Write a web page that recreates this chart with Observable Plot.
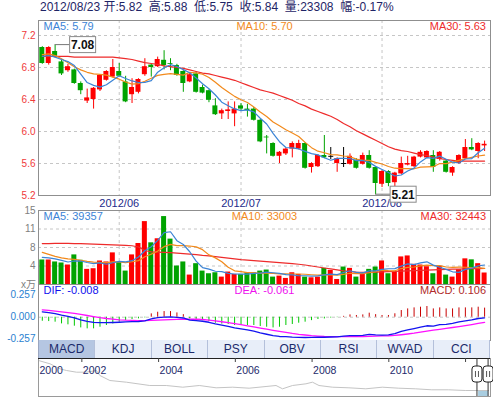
<!DOCTYPE html>
<html><head><meta charset="utf-8">
<script src="https://cdn.jsdelivr.net/npm/d3@7"></script>
<script src="https://cdn.jsdelivr.net/npm/@observablehq/plot@0.6"></script>
<style>
body{margin:0;background:#fff;}
#root{position:relative;width:493px;height:398px;overflow:hidden;background:#fff;font-family:"Liberation Sans",Arial,sans-serif;}
.panel{position:absolute;left:0;}
.panel svg{overflow:visible;}
#title{position:absolute;left:40px;top:0;font-size:12px;line-height:14px;color:#1e2466;white-space:pre;font-family:"Liberation Sans",Arial,"Noto Sans CJK SC",sans-serif;}
#unit{position:absolute;left:21px;top:279px;font-size:10px;line-height:12px;color:#808080;font-family:"Liberation Sans","Noto Sans CJK SC",sans-serif;}
#tabs{position:absolute;left:38px;top:340px;width:452px;height:18px;display:flex;background:#e8eef9;border-left:1px solid #9aa6c0;box-sizing:border-box;}
.tab{flex:1;text-align:center;font-size:12px;line-height:18px;color:#1b2a6b;border-right:1px solid #b4c0da;box-sizing:border-box;}
.tab.sel{background:#b5c6e2;}
</style></head>
<body>
<div id="root">
  <div id="title"></div>
  <div class="panel" id="pPrice" style="top:20px"></div>
  <div class="panel" id="pVol" style="top:210px"></div>
  <div id="unit">x万</div>
  <div class="panel" id="pMacd" style="top:284px"></div>
  <div id="tabs"></div>
  <div class="panel" id="pOv" style="top:358px"></div>
</div>
<script>
// ---------- data ----------
const titleText = "2012/08/23 开:5.82  高:5.88  低:5.75  收:5.84  量:23308  幅:-0.17%";

const open  = [7.05,6.85,7.00,6.87,6.76,6.77,6.60,6.38,6.40,6.52, 6.64,6.68,6.75,6.62,6.46,6.49,6.71,6.83,6.81,6.89, 6.85,6.825,6.75,6.62,6.72,6.55,6.51,6.32,6.22,6.25, 6.22,6.32,6.28,6.28,6.14,5.93,5.85,5.69,5.72,5.78, 5.78,5.85,5.55,5.56,5.70,5.69,5.60,5.60,5.59,5.64, 5.59,5.70,5.55,5.34,5.50,5.36,5.47,5.58,5.56,5.68, 5.67,5.70,5.65,5.63,5.48,5.60,5.66,5.80,5.75,5.82];
const high  = [7.06,7.06,7.08,6.89,6.84,6.78,6.62,6.53,6.55,6.70, 6.76,6.90,6.85,6.69,6.66,6.66,6.91,6.84,6.93,7.01, 6.91,6.84,6.76,6.73,6.75,6.58,6.52,6.41,6.28,6.37, 6.37,6.35,6.34,6.30,6.15,5.95,5.86,5.75,5.79,5.87, 5.89,5.86,5.61,5.71,5.95,5.80,5.67,5.80,5.72,5.66, 5.73,5.76,5.56,5.51,5.51,5.49,5.68,5.69,5.69,5.76, 5.76,5.76,5.75,5.64,5.56,5.71,5.90,5.91,5.86,5.88];
const low   = [6.84,6.83,6.92,6.70,6.74,6.59,6.46,6.35,6.28,6.50, 6.63,6.67,6.68,6.36,6.35,6.47,6.69,6.68,6.80,6.77, 6.76,6.69,6.49,6.61,6.48,6.47,6.36,6.20,6.15,6.15, 6.06,6.26,6.18,6.13,5.86,5.72,5.68,5.60,5.70,5.67, 5.77,5.53,5.48,5.55,5.66,5.65,5.49,5.55,5.58,5.53, 5.58,5.53,5.21,5.30,5.31,5.31,5.46,5.57,5.55,5.67, 5.66,5.49,5.63,5.48,5.44,5.59,5.65,5.76,5.66,5.75];
const close = [6.85,7.05,6.94,6.72,6.81,6.60,6.51,6.42,6.54,6.70, 6.75,6.80,6.69,6.37,6.55,6.65,6.81,6.80,6.90,6.825, 6.84,6.70,6.60,6.71,6.49,6.48,6.39,6.21,6.26,6.27, 6.28,6.28,6.26,6.14,5.87,5.92,5.69,5.74,5.78,5.85, 5.85,5.54,5.60,5.70,5.67,5.69,5.66,5.60,5.69,5.54, 5.70,5.54,5.35,5.50,5.35,5.48,5.60,5.60,5.68,5.74, 5.75,5.55,5.74,5.49,5.55,5.70,5.80,5.77,5.85,5.84];
const ma5   = [6.94,6.95,6.93,6.90,6.874,6.824,6.716,6.612,6.576,6.554, 6.584,6.642,6.696,6.662,6.632,6.612,6.614,6.636,6.742,6.797, 6.835,6.813,6.773,6.735,6.668,6.596,6.534,6.456,6.366,6.322, 6.282,6.26,6.27,6.246,6.166,6.094,5.976,5.872,5.80,5.796, 5.782,5.752,5.724,5.708,5.672,5.64,5.664,5.664,5.662,5.636, 5.638,5.614,5.564,5.526,5.488,5.444,5.456,5.506,5.542,5.62, 5.674,5.664,5.692,5.654,5.616,5.606,5.656,5.662,5.734,5.792];
const ma10  = [6.96,6.97,6.95,6.91,6.86,6.81,6.77,6.74,6.72,6.714, 6.704,6.679,6.654,6.619,6.593,6.598,6.628,6.666,6.702,6.715, 6.724,6.714,6.705,6.739,6.733,6.716,6.674,6.615,6.551,6.495, 6.439,6.397,6.363,6.306,6.244,6.188,6.118,6.071,6.023,5.981, 5.938,5.864,5.798,5.754,5.734,5.711,5.708,5.694,5.685,5.654, 5.639,5.639,5.614,5.594,5.562,5.541,5.535,5.535,5.534,5.554, 5.559,5.56,5.599,5.598,5.618,5.64,5.66,5.677,5.694,5.704];
const ma30  = [6.94,6.94,6.94,6.94,6.94,6.93,6.93,6.93,6.93,6.93, 6.93,6.93,6.92,6.91,6.90,6.88,6.86,6.85,6.84,6.82, 6.81,6.80,6.79,6.77,6.75,6.73,6.72,6.70,6.68,6.66, 6.64,6.61,6.58,6.55,6.52,6.50,6.48,6.45,6.42,6.39, 6.35,6.32,6.28,6.25,6.22,6.19,6.15,6.10,6.06,6.01, 5.97,5.93,5.89,5.85,5.81,5.78,5.76,5.75,5.73,5.71, 5.70,5.68,5.66,5.65,5.64,5.63,5.63,5.63,5.63,5.63];

const volume = [4.97,4.97,4.57,4.36,3.95,6.00,4.91,3.07,3.20,4.77, 4.57,6.41,4.43,2.72,6.00,8.31,12.75,8.45,9.27,13.77, 9.20,3.75,4.57,1.91,4.22,2.72,2.18,2.38,1.50,2.52, 2.04,2.04,2.38,2.38,2.72,2.93,1.50,1.70,1.23,2.38, 2.04,1.50,1.36,1.50,3.27,2.86,1.02,3.54,3.27,1.50, 2.38,3.07,3.54,4.77,2.18,2.52,5.59,5.79,4.09,3.95, 3.60,2.18,3.70,1.91,1.50,3.00,5.20,5.00,4.22,2.33];
const vma5  = [5.5,5.4,5.2,4.9,4.564,4.77,4.758,4.458,4.226,4.39, 4.104,4.404,4.676,4.58,4.826,5.574,6.842,7.646,8.956,10.51, 10.688,8.888,8.112,6.64,4.73,3.434,3.12,2.682,2.60,2.26, 2.124,2.096,2.096,2.272,2.312,2.49,2.382,2.246,2.016,1.948, 1.77,1.77,1.702,1.756,1.934,2.098,2.002,2.438,2.792,2.438, 2.342,2.752,2.752,3.052,3.188,3.216,3.72,4.17,4.034,4.388, 4.604,3.922,3.504,3.068,2.578,2.458,3.062,3.322,3.784,3.95];
const vma10 = [6.5,6.1,5.7,5.4,5.2,5.1,4.9,4.7,4.55,4.477, 4.437,4.581,4.567,4.403,4.608,4.839,5.623,6.161,6.768,7.668, 8.131,7.865,7.879,7.798,7.62,7.061,6.004,5.397,4.62,3.495, 2.779,2.608,2.389,2.436,2.286,2.307,2.239,2.171,2.144,2.13, 2.13,2.076,1.974,1.886,1.941,1.934,1.886,2.07,2.274,2.186, 2.22,2.377,2.595,2.922,2.813,2.779,3.236,3.461,3.543,3.788, 3.91,3.821,3.837,3.551,3.483,3.531,3.492,3.413,3.426,3.264];
const vma30 = [8.3,8.3,8.35,8.35,8.35,8.3,8.3,8.25,8.2,8.15, 8.1,8.05,8.0,7.95,7.85,7.6,6.9,6.6,6.55,6.5, 6.45,6.35,6.25,6.15,6.05,5.9,5.8,5.65,5.5,5.35, 5.2,5.05,4.95,4.85,4.75,4.65,4.55,4.45,4.35,4.25, 4.1,3.95,3.75,3.55,3.35,3.15,2.95,2.75,2.6,2.5, 2.45,2.45,2.5,2.55,2.6,2.65,2.7,2.75,2.8,2.85, 2.9,2.95,3.0,3.05,3.1,3.12,3.16,3.2,3.22,3.24];

const macd = [-0.047,-0.051,-0.058,-0.078,-0.089,-0.105,-0.125,-0.136,-0.136,-0.117, -0.097,-0.078,-0.058,-0.039,-0.027,-0.019,-0.008,0.039,0.058,0.066, 0.066,0.05,0.03,-0.02,-0.03,-0.04,-0.05,-0.07,-0.08,-0.085, -0.097,-0.097,-0.097,-0.097,-0.109,-0.117,-0.125,-0.117,-0.097,-0.085, -0.07,-0.058,-0.04,-0.027,-0.02,-0.01,-0.005,0.01,0.027,0.02, 0.027,0.047,0.03,0.02,0.02,0.04,0.078,0.097,0.109,0.117, 0.125,0.097,0.109,0.097,0.097,0.109,0.109,0.109,0.117,0.106];
const dif  = [0.063,0.054,0.042,0.024,0.010,-0.008,-0.030,-0.048,-0.061,-0.064, -0.064,-0.062,-0.059,-0.055,-0.052,-0.050,-0.044,-0.019,-0.006,0.001, 0.004,-0.001,-0.009,-0.033,-0.039,-0.047,-0.059,-0.078,-0.093,-0.107, -0.124,-0.136,-0.149,-0.162,-0.182,-0.199,-0.216,-0.225,-0.227,-0.233, -0.235,-0.237,-0.235,-0.234,-0.234,-0.231,-0.230,-0.222,-0.214,-0.216, -0.212,-0.200,-0.206,-0.209,-0.207,-0.193,-0.166,-0.148,-0.132,-0.116, -0.100,-0.104,-0.087,-0.083,-0.072,-0.055,-0.044,-0.032,-0.015,-0.008];
const dea  = [0.086,0.079,0.071,0.063,0.054,0.045,0.033,0.020,0.007,-0.005, -0.015,-0.023,-0.030,-0.035,-0.038,-0.040,-0.040,-0.038,-0.035,-0.032, -0.029,-0.026,-0.024,-0.023,-0.024,-0.027,-0.034,-0.043,-0.053,-0.064, -0.075,-0.087,-0.100,-0.113,-0.127,-0.140,-0.153,-0.166,-0.178,-0.190, -0.200,-0.208,-0.215,-0.220,-0.224,-0.226,-0.227,-0.227,-0.227,-0.226, -0.225,-0.223,-0.221,-0.219,-0.217,-0.213,-0.205,-0.196,-0.186,-0.174, -0.162,-0.152,-0.141,-0.131,-0.120,-0.109,-0.098,-0.086,-0.073,-0.061];

const monthLabels = ["2012/06","2012/07","2012/08"];
const monthIndex  = [12, 31, 53];
const priceTicks  = [5.2, 5.6, 6.0, 6.4, 6.8, 7.2];
const volTicks    = [3.75, 7.5, 11.25, 15];
const volTickLabels = ["4","8","11","15"];
const macdTicks   = [-0.257, 0, 0.257];
const macdTickLabels = ["-0.257","0.000","0.257"];
const priceLabels = ["MA5: 5.79","MA10: 5.70","MA30: 5.63"];
const volLabels   = ["MA5: 39357","MA10: 33003","MA30: 32443"];
const macdLabels  = ["DIF: -0.008","DEA: -0.061","MACD: 0.106"];
const extremes    = [{i:2, v:7.08, label:"7.08"}, {i:52, v:5.21, label:"5.21"}];
const tabs = ["MACD","KDJ","BOLL","PSY","OBV","RSI","WVAD","CCI"];

const ovYear  = [2000.87,2001.17,2001.43,2001.6,2001.86,2002.12,2002.38,2002.47,2002.73,2003.16,2003.77,2004.2,2004.63,2005.06,2005.5,2005.93,2006.36,2006.8,2007.06,2007.23,2007.49,2007.84,2008.01,2008.18,2008.53,2008.96,2009.4,2009.83,2010.26,2010.69,2011.12,2011.56,2011.99,2012.34,2012.6];
const ovValue = [36,32.7,27.7,26,24.3,24.3,26,21,16,14.3,11,11,9.3,11,8.7,9.3,8.3,10,11,7.7,11,12.7,14.3,11,9.3,8.7,7.7,9.3,8.3,7.7,6.7,6.7,6,6,6];
const yearTicks = [2002,2004,2006,2008,2010,2012];
const yearLabelPos = [2000.87,2002,2004,2006,2008,2010];
const yearLabels = ["2000","2002","2004","2006","2008","2010"];
const selRange = [2012.31, 2012.6];

// ---------- build ----------
const UP="#ff0000", DOWN="#00a300", FLAT="#000000";
const C5="#3b84d6", C10="#f28a1c", C30="#ee2b2b";
const GRID="#c6c6c6", FRAME="#8f8f8f";
const xDomain=[-0.593, 69.92];
const FONT="'Liberation Sans', Arial, sans-serif";

document.getElementById("title").textContent = titleText;

const days = close.map((c,i)=>({i, o:open[i], h:high[i], l:low[i], c, v:volume[i],
  ma5:ma5[i], ma10:ma10[i], ma30:ma30[i], vma5:vma5[i], vma10:vma10[i], vma30:vma30[i],
  dif:dif[i], dea:dea[i], m:macd[i], prev: i>0 ? close[i-1] : open[i]}));
const candleColor = d => d.c > d.o ? UP : d.c < d.o ? DOWN : FLAT;
const volColor = d => d.c > d.o ? UP : d.c < d.o ? DOWN : (d.c >= d.prev ? UP : DOWN);
const months = monthIndex.map((i,k)=>({i, label:monthLabels[k]}));
const half = 0.39;

function headerLabels(labels){
  return [
    Plot.text([labels[0]],{text:d=>d, frameAnchor:"top-left", dx:5, dy:6, lineAnchor:"middle", textAnchor:"start", fill:labels===macdLabels? "#1010ee" : C5, fontSize:11}),
    Plot.text([labels[1]],{text:d=>d, frameAnchor:"top", dx:0, dy:6, lineAnchor:"middle", textAnchor:"middle", fill:labels===macdLabels? "#ee10ee" : C10, fontSize:11}),
    Plot.text([labels[2]],{text:d=>d, frameAnchor:"top-right", dx:-4.5, dy:6, lineAnchor:"middle", textAnchor:"end", fill:labels===macdLabels? "#b02a2a" : C30, fontSize:11})
  ];
}

function extremeMark(e){
  return (index, scales) => {
    const x = scales.x(e.i), y = scales.y(e.v);
    const g = d3.create("svg:g");
    const bx = x + 15;
    g.append("line").attr("x1",x).attr("x2",bx).attr("y1",y).attr("y2",y).attr("stroke","#777");
    g.append("rect").attr("x",bx).attr("y",y-8).attr("width",26).attr("height",16).attr("fill","#fff").attr("stroke","#8a8a8a");
    g.append("text").attr("x",bx+13).attr("y",y).attr("dy","0.36em").attr("text-anchor","middle")
      .attr("font-weight","bold").attr("font-size",12).attr("font-family",FONT).attr("fill","#111").text(e.label);
    return g.node();
  };
}

const common = {width:493, marginLeft:38, marginRight:3, style:{background:"transparent", overflow:"visible", fontFamily:FONT}};

const price = Plot.plot({
  ...common, height:189, marginTop:0, marginBottom:14,
  x:{domain:xDomain, axis:null}, y:{domain:[5.2,7.3875], axis:null},
  marks:[
    Plot.ruleY(priceTicks,{stroke:GRID, strokeDasharray:"3,3"}),
    Plot.ruleX(months,{x:"i", stroke:GRID, strokeDasharray:"3,3"}),
    Plot.text(priceTicks,{y:d=>d, text:d=>d.toFixed(1), frameAnchor:"left", textAnchor:"end", dx:-3, fill:"#f03a3a", fontSize:10}),
    Plot.text(months,{x:"i", text:"label", frameAnchor:"bottom", dy:8, lineAnchor:"middle", fill:"#1d2a8a", fontSize:11}),
    Plot.ruleX(days,{x:"i", y1:"l", y2:"h", stroke:candleColor}),
    Plot.rect(days.filter(d=>d.o!==d.c),{x1:d=>d.i-half, x2:d=>d.i+half, y1:"o", y2:"c", fill:candleColor}),
    Plot.link(days.filter(d=>d.o===d.c),{x1:d=>d.i-half, x2:d=>d.i+half, y1:"o", y2:"c", stroke:FLAT}),
    Plot.line(days,{x:"i", y:"ma30", stroke:C30, strokeWidth:1.2}),
    Plot.line(days,{x:"i", y:"ma10", stroke:C10, strokeWidth:1.2}),
    Plot.line(days,{x:"i", y:"ma5", stroke:C5, strokeWidth:1.2}),
    ...headerLabels(priceLabels),
    Plot.frame({stroke:FRAME}),
    ...extremes.map(extremeMark)
  ]
});
document.getElementById("pPrice").append(price);

const volTickObjs = volTicks.map((v,k)=>({v, label:volTickLabels[k]}));
const vol = Plot.plot({
  ...common, height:74, marginTop:0, marginBottom:0,
  x:{domain:xDomain, axis:null}, y:{domain:[0,15], axis:null},
  marks:[
    Plot.ruleY(volTicks.slice(0,3),{stroke:GRID, strokeDasharray:"3,3"}),
    Plot.ruleX(months,{x:"i", stroke:GRID, strokeDasharray:"3,3"}),
    Plot.text(volTickObjs,{y:"v", text:"label", frameAnchor:"left", textAnchor:"end", dx:-3, fill:"#808080", fontSize:10}),
    Plot.rect(days,{x1:d=>d.i-half, x2:d=>d.i+half, y1:()=>0, y2:"v", fill:volColor}),
    Plot.line(days,{x:"i", y:"vma30", stroke:C30, strokeWidth:1.2}),
    Plot.line(days,{x:"i", y:"vma10", stroke:C10, strokeWidth:1.2}),
    Plot.line(days,{x:"i", y:"vma5", stroke:C5, strokeWidth:1.2}),
    ...headerLabels(volLabels),
    Plot.frame({stroke:FRAME})
  ]
});
document.getElementById("pVol").append(vol);

const macdTickObjs = macdTicks.map((v,k)=>({v, label:macdTickLabels[k]}));
const mac = Plot.plot({
  ...common, height:56, marginTop:0, marginBottom:0,
  x:{domain:xDomain, axis:null}, y:{domain:[-0.272,0.382], axis:null},
  marks:[
    Plot.ruleY([0],{stroke:GRID, strokeDasharray:"3,3"}),
    Plot.text(macdTickObjs,{y:"v", text:"label", frameAnchor:"left", textAnchor:"end", dx:-3, fill:"#2a7fd0", fontSize:10}),
    Plot.ruleX(days,{x:"i", y1:()=>0, y2:"m", stroke:d=>d.m>=0?"#c80000":"#00c800"}),
    Plot.line(days,{x:"i", y:"dea", stroke:"#ff10ff", strokeWidth:1.3}),
    Plot.line(days,{x:"i", y:"dif", stroke:"#1414f0", strokeWidth:1.3}),
    ...headerLabels(macdLabels),
    Plot.frame({stroke:FRAME})
  ]
});
document.getElementById("pMacd").append(mac);

const tabsEl = document.getElementById("tabs");
tabs.forEach((t,k)=>{ const d=document.createElement("div"); d.className="tab"+(k===0?" sel":""); d.textContent=t; tabsEl.append(d); });

const ov = ovYear.map((y,k)=>({y, v:ovValue[k]}));
const ovSel = ov.filter(d=>d.y>=selRange[0] && d.y<=selRange[1]);
const yearLbl = yearLabelPos.map((x,k)=>({x, label:yearLabels[k]}));
function handles(index, scales, values, dims){
  const g = d3.create("svg:g");
  const top = dims.marginTop, bottom = dims.height - dims.marginBottom;
  for (const xv of selRange){
    const x = scales.x(xv);
    g.append("line").attr("x1",x).attr("x2",x).attr("y1",top).attr("y2",bottom).attr("stroke","#333");
    g.append("rect").attr("x",x-5).attr("y",top+8).attr("width",10).attr("height",16).attr("rx",3).attr("fill","#fff").attr("stroke","#222");
    for (const dx of [-1.5,1.5]) g.append("line").attr("x1",x+dx).attr("x2",x+dx).attr("y1",top+13).attr("y2",top+19).attr("stroke","#555");
  }
  return g.node();
}
const over = Plot.plot({
  ...common, height:40, marginTop:0, marginBottom:2,
  x:{domain:[2000.87,2012.65], axis:null}, y:{domain:[0,38], axis:null},
  marks:[
    Plot.areaY(ovSel,{x:"y", y:"v", fill:"#a9cde0"}),
    Plot.line(ov,{x:"y", y:"v", stroke:"#c4c4c4", strokeWidth:1}),
    Plot.frame({stroke:"#9a9a9a"}),
    Plot.ruleY([38],{stroke:"#222"}),
    Plot.ruleX(yearTicks,{y1:38, y2:34, stroke:"#444"}),
    Plot.text(yearLbl,{x:"x", y:()=>38, text:"label", textAnchor:"start", lineAnchor:"middle", dx:1, dy:12, fill:"#1d2a6b", fontSize:10.5}),
    handles
  ]
});
document.getElementById("pOv").append(over);
</script>
</body></html>
